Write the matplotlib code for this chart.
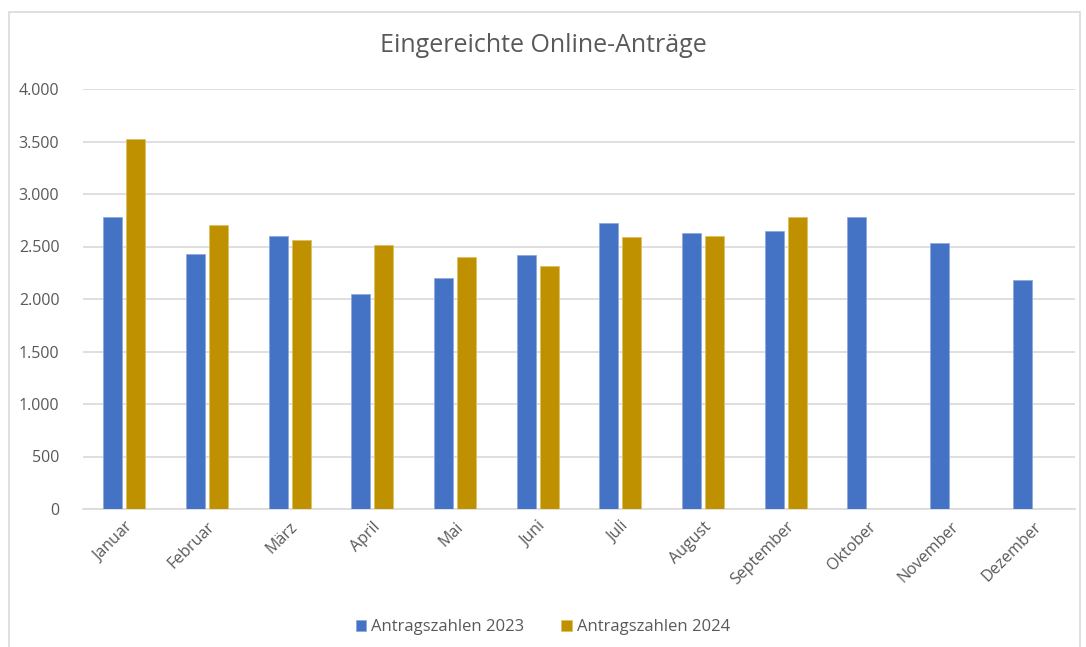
import matplotlib.pyplot as plt
import matplotlib.patches as patches
from matplotlib.ticker import FuncFormatter, MultipleLocator
import numpy as np

monate = ['Januar', 'Februar', 'März', 'April', 'Mai', 'Juni', 'Juli',
          'August', 'September', 'Oktober', 'November', 'Dezember']
werte_2023 = [2785, 2433, 2598, 2045, 2204, 2423, 2728, 2633, 2652, 2785, 2538, 2178]
werte_2024 = [3525, 2709, 2566, 2512, 2404, 2318, 2595, 2604, 2785]

plt.rcParams['font.family'] = ['Open Sans', 'DejaVu Sans']
grau = '#595959'

fig = plt.figure(figsize=(10.86, 6.47), dpi=100)
ax = fig.add_axes([83 / 1086, 1 - 509 / 647, (1075 - 83) / 1086, (509 - 89) / 647])

# chart border
fig.patches.append(patches.Rectangle((9 / 1086, -0.05), (1080 - 9) / 1086, 1.05 - 12 / 647,
                                     transform=fig.transFigure, fill=False,
                                     edgecolor='#D9D9D9', linewidth=1.2))

x = np.arange(len(monate))
breite = 0.23
ax.bar(x - 0.14, werte_2023, breite, color='#4472C4', edgecolor='#8FAADC',
       linewidth=0.6, label='Antragszahlen 2023', zorder=3)
ax.bar(x[:len(werte_2024)] + 0.14, werte_2024, breite, color='#BF9000', edgecolor='#E0C060',
       linewidth=0.6, label='Antragszahlen 2024', zorder=3)

ax.set_xlim(-0.5, len(monate) - 0.5)
ax.set_ylim(0, 4000)
ax.yaxis.set_major_locator(MultipleLocator(500))
ax.yaxis.set_major_formatter(FuncFormatter(lambda v, p: f'{int(v):,}'.replace(',', '.')))
ax.grid(axis='y', color='#D9D9D9', linewidth=1.2, zorder=0)

for s in ['top', 'right', 'left']:
    ax.spines[s].set_visible(False)
ax.spines['bottom'].set_color('#D9D9D9')
ax.spines['bottom'].set_linewidth(1.2)
ax.tick_params(length=0, colors=grau, labelsize=11.5)
ax.tick_params(axis='y', pad=17)
ax.tick_params(axis='x', pad=7)

ax.set_xticks(x)
ax.set_xticklabels(monate, rotation=45, ha='right', rotation_mode='anchor')
for lbl in ax.get_xticklabels():
    lbl.set_color(grau)

fig.text(0.5, 1 - 46 / 647, 'Eingereichte Online-Anträge', ha='center', va='center',
         fontsize=18, color=grau)

fig.legend(loc='center', bbox_to_anchor=(0.5, 1 - 627 / 647), ncol=2, frameon=False,
           fontsize=12, labelcolor=grau, handlelength=0.65, handleheight=0.65,
           handletextpad=0.3, columnspacing=2.2)

fig.savefig('out.png', dpi=100)
